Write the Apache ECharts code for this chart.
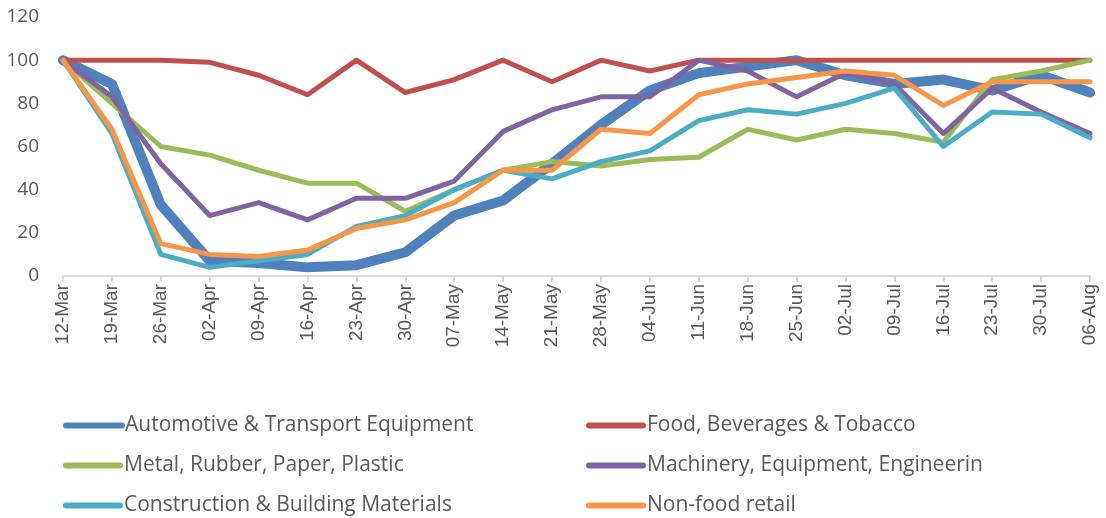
<!DOCTYPE html>
<html>
<head>
<meta charset="utf-8">
<script src="https://cdn.jsdelivr.net/npm/echarts@6/dist/echarts.min.js"></script>
<style>html,body{margin:0;padding:0;background:#fff;}#chart{width:1106px;height:518px;}</style>
</head>
<body>
<div id="chart"></div>
<script>
var categories = ['12-Mar','19-Mar','26-Mar','02-Apr','09-Apr','16-Apr','23-Apr','30-Apr','07-May','14-May','21-May','28-May','04-Jun','11-Jun','18-Jun','25-Jun','02-Jul','09-Jul','16-Jul','23-Jul','30-Jul','06-Aug'];
var automotive   = [100, 89, 33, 7, 6, 4, 5, 11, 28, 35, 52, 70, 86, 94, 97, 100, 93, 89, 91, 86, 93, 85];
var food         = [100, 100, 100, 99, 93, 84, 100, 85, 91, 100, 90, 100, 95, 100, 100, 100, 100, 100, 100, 100, 100, 100];
var metal        = [100, 80, 60, 56, 49, 43, 43, 30, 40, 49, 53, 51, 54, 55, 68, 63, 68, 66, 62, 91, 95, 100];
var machinery    = [100, 83, 52, 28, 34, 26, 36, 36, 44, 67, 77, 83, 83, 100, 95, 83, 94, 89, 66, 87, 76, 66];
var construction = [100, 66, 10, 4, 7, 10, 23, 28, 40, 49, 45, 53, 58, 72, 77, 75, 80, 87, 60, 76, 75, 64];
var nonfood      = [100, 68, 15, 10, 9, 12, 22, 26, 34, 49, 49, 68, 66, 84, 89, 92, 95, 93, 79, 90, 90, 90];
var yTicks = [0, 20, 40, 60, 80, 100, 120];

var names = ['Automotive & Transport Equipment','Food, Beverages & Tobacco','Metal, Rubber, Paper, Plastic','Machinery, Equipment, Engineerin','Construction & Building Materials','Non-food retail'];
var colors = ['#4F81BD','#C0504D','#9BBB59','#8064A2','#4BACC6','#F79646'];
var widths = [10, 5, 5, 5, 5, 5];
var dataSets = [automotive, food, metal, machinery, construction, nonfood];

var series = dataSets.map(function(d, i){
  return {
    name: names[i], type: 'line', data: d, symbol: 'none', smooth: false,
    lineStyle: {color: colors[i], width: widths[i], cap: 'round', join: 'round'},
    itemStyle: {color: colors[i]},
    z: 2 + i
  };
});

var legendPos = [[58, 410], [581, 410], [58, 450], [581, 450], [58, 490], [581, 490]];
var legends = names.map(function(n, i){
  return {
    data: [n], left: legendPos[i][0], top: legendPos[i][1],
    icon: 'path://M5,0 L95,0 A5,5 0 0 1 95,10 L5,10 A5,5 0 0 1 5,0 Z',
    itemWidth: 62, itemHeight: i === 0 ? 8 : 6, itemGap: 0,
    textStyle: {fontFamily: 'Open Sans', fontSize: 21, color: '#595959', padding: [0,0,0,-5]},
    selectedMode: false
  };
});

var chart = echarts.init(document.getElementById('chart'), null, {renderer: 'canvas'});
chart.setOption({
  animation: false,
  backgroundColor: '#ffffff',
  legend: legends,
  grid: {left: 63, right: 16, top: 17, bottom: 242, containLabel: false},
  xAxis: {
    type: 'category', data: categories, boundaryGap: false,
    axisLine: {lineStyle: {color: '#D9D9D9', width: 2}},
    axisTick: {show: true, alignWithLabel: true, length: 6, lineStyle: {color: '#D9D9D9', width: 2}},
    axisLabel: {rotate: 90, margin: 8, fontFamily: 'Liberation Sans', fontSize: 19, color: '#595959', interval: 0},
    splitLine: {show: false}
  },
  yAxis: {
    type: 'value', min: yTicks[0], max: yTicks[yTicks.length-1], interval: 20,
    axisLine: {show: false}, axisTick: {show: false}, splitLine: {show: false},
    axisLabel: {margin: 24, fontFamily: 'Open Sans', fontSize: 19, color: '#595959'}
  },
  series: series
});
</script>
</body>
</html>
